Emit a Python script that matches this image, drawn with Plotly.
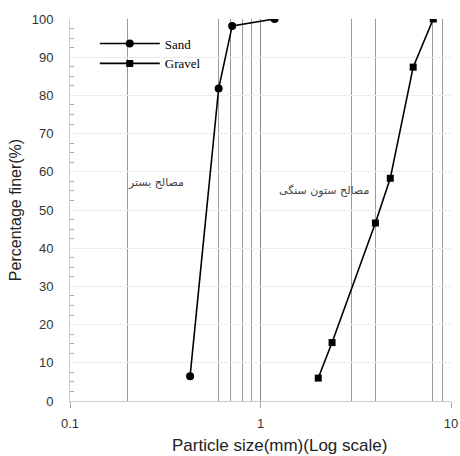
import math
import plotly.graph_objects as go

# Data
sand_size = [0.427, 0.603, 0.71, 1.185]
sand_finer = [6.5, 81.8, 98.2, 100.0]
gravel_size = [2.01, 2.375, 4.01, 4.80, 6.33, 8.07]
gravel_finer = [6.0, 15.3, 46.6, 58.3, 87.4, 100.0]

x_labels = ["0.1", "1", "10"]
x_label_vals = [0.1, 1, 10]
x_dark_grid = [0.2, 0.6, 0.7, 0.8, 0.9, 3, 4, 8, 9]
x_light_grid = [0.3, 0.4, 0.5, 2, 5, 6, 7]

label_bed = "مصالح بستر"
label_column = "مصالح ستون سنگی"
label_pos = {"bed": (0.284, 57.1), "column": (2.15, 55.0)}

fig = go.Figure()
fig.add_trace(go.Scatter(
    x=sand_size, y=sand_finer, name="Sand", mode="lines+markers",
    line=dict(color="black", width=1.6),
    marker=dict(symbol="circle", size=8, color="black"),
))
fig.add_trace(go.Scatter(
    x=gravel_size, y=gravel_finer, name="Gravel", mode="lines+markers",
    line=dict(color="black", width=1.6),
    marker=dict(symbol="square", size=7, color="black"),
))

for key, txt in (("bed", label_bed), ("column", label_column)):
    px, py = label_pos[key]
    fig.add_annotation(x=math.log10(px), y=py, xref="x", yref="y", text=txt, showarrow=False,
                       xanchor="center", yanchor="middle",
                       font=dict(family="DejaVu Sans", size=11, color="#444"))

# x-axis title as a paper annotation (offset to the right as in the reference)
fig.add_annotation(x=0.549, y=-0.117, xref="paper", yref="paper",
                   text="Particle size(mm)(Log scale)", showarrow=False,
                   xanchor="center", yanchor="middle",
                   font=dict(family="Liberation Sans, Arial", size=17, color="#222"))

tick_font = dict(family="Liberation Sans, Arial", size=13, color="#333")

fig.update_layout(
    width=460, height=456,
    margin=dict(l=70, r=9, t=19, b=55),
    paper_bgcolor="white", plot_bgcolor="white",
    showlegend=True,
    legend=dict(x=0.065, y=0.975, xanchor="left", yanchor="top",
                bgcolor="rgba(0,0,0,0)", itemwidth=60,
                tracegroupgap=0,
                font=dict(family="Liberation Serif, Times New Roman", size=13, color="black")),
    xaxis=dict(
        type="log", range=[-1, 1], automargin=False,
        tickmode="array", tickvals=x_label_vals, ticktext=x_labels,
        ticks="outside", ticklen=6, tickcolor="#aaa", ticklabelstandoff=4,
        showgrid=True, gridcolor="#8a8a8a", gridwidth=1,
        showline=True, linecolor="#ccc", linewidth=1,
        tickfont=tick_font, zeroline=False,
        minor=dict(tickmode="array", tickvals=x_dark_grid, ticks="",
                   showgrid=True, gridcolor="#9a9a9a", gridwidth=1),
    ),
    xaxis2=dict(
        type="log", range=[-1, 1], overlaying="x", anchor="y", automargin=False,
        tickmode="array", tickvals=x_light_grid, showticklabels=False, ticks="",
        showgrid=True, gridcolor="#dcdcdc", gridwidth=1, showline=False, zeroline=False,
    ),
    yaxis=dict(
        range=[0, 100], dtick=10, tick0=0, automargin=False,
        ticks="", showgrid=True, gridcolor="#ececec", gridwidth=1,
        showline=True, linecolor="#ccc", linewidth=1,
        tickfont=tick_font, zeroline=False, ticklabelstandoff=13,
        minor=dict(dtick=2.5, ticks="inside", ticklen=4, tickcolor="#aaa", showgrid=False),
        title=dict(text="Percentage finer(%)", standoff=6,
                   font=dict(family="Liberation Sans, Arial", size=16, color="#222")),
    ),
    yaxis2=dict(
        range=[0, 100], dtick=20, tick0=0, overlaying="y", anchor="x", side="left",
        automargin=False,
        ticks="outside", ticklen=7, tickcolor="#999", showticklabels=False,
        showgrid=True, gridcolor="#999", gridwidth=1, showline=False, zeroline=False,
    ),
)

fig.write_html(
    "out.html",
    config={"displayModeBar": False},
    post_script="document.body.style.margin='0';document.body.style.padding='0';",
)
